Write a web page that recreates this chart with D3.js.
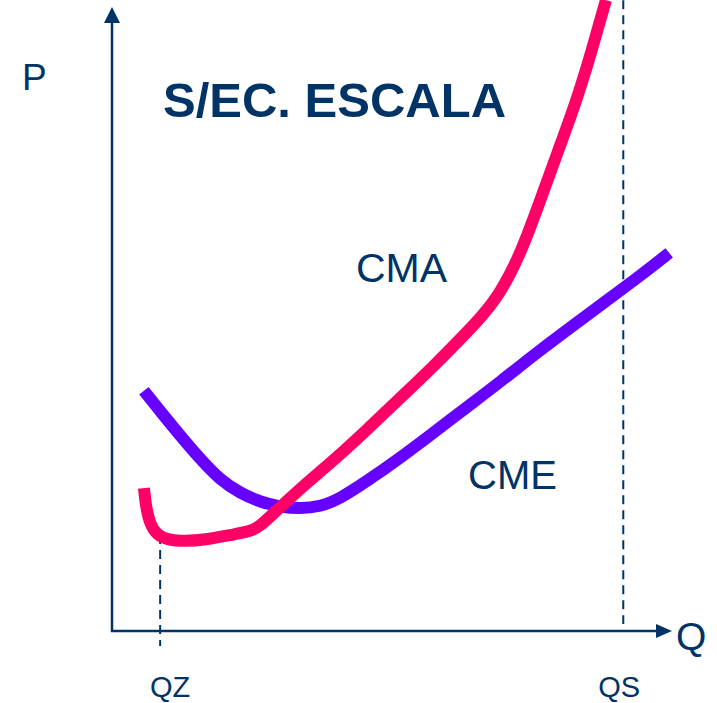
<!DOCTYPE html>
<html>
<head>
<meta charset="utf-8">
<script src="https://cdn.jsdelivr.net/npm/d3@7/dist/d3.min.js"></script>
<style>
  html, body { margin: 0; padding: 0; background: #ffffff; }
  svg { display: block; }
  text { font-family: "Liberation Sans", Arial, sans-serif; fill: #003366; }
</style>
</head>
<body>
<svg id="chart" width="717" height="703"></svg>
<script>
// Average cost curves without economies of scale (Q on x, P on y, 0-100 units)
const cmaQ = [5.7, 6.1, 6.8, 8.0, 10.0, 13.0, 16.6, 21.1, 24.6, 26.4, 28.2, 31.8, 35.4, 38.9, 45.5, 51.4, 57.3, 63.4, 66.1, 68.8, 71.1, 73.2, 76.4, 79.6, 83.0, 85.7, 88.2];
const cmaP = [22.9, 19.7, 17.1, 15.4, 14.6, 14.4, 14.6, 15.4, 15.9, 16.8, 18.3, 21.3, 24.2, 26.8, 32.2, 37.3, 42.3, 47.9, 50.5, 53.5, 57.2, 61.1, 68.8, 76.8, 85.1, 93.1, 101.1];

const cmeQ = [5.7, 8.9, 12.1, 15.7, 19.3, 22.9, 26.4, 30.0, 33.6, 37.1, 40.7, 45.5, 51.4, 57.3, 63.4, 69.3, 76.4, 85.4, 94.3, 99.5];
const cmeP = [38.5, 34.9, 31.4, 27.6, 24.2, 22.1, 20.7, 19.9, 19.6, 19.9, 21.2, 24.0, 27.7, 31.7, 35.9, 39.9, 45.0, 51.0, 56.9, 60.6];

// Reference quantities marked on the Q axis
const markLabels = ["QZ", "QS"];
const markQ = [8.6, 91.3];
const markTopP = [15.4, 101.1];

const curveNames = ["CMA", "CME"];
const titleText = "S/EC. ESCALA";
const axisLabels = ["P", "Q"];

const NAVY = "#003366";
const PINK = "#ff0066";
const VIOLET = "#6600ff";

const svg = d3.select("#chart");

const x = d3.scaleLinear().domain([0, 100]).range([112, 672]);
const y = d3.scaleLinear().domain([0, 100]).range([631, 7]);

// Dashed reference lines
const marks = markLabels.map((label, i) => ({ label, q: markQ[i], top: markTopP[i] }));
svg.selectAll("line.mark")
  .data(marks)
  .join("line")
  .attr("class", "mark")
  .attr("x1", d => x(d.q)).attr("x2", d => x(d.q))
  .attr("y1", d => y(d.top))
  .attr("y2", (d, i) => i === 0 ? y(0) + 15 : y(0) - 7)
  .attr("stroke", NAVY)
  .attr("stroke-width", 2)
  .attr("stroke-dasharray", "9,6");

// Axes with arrowheads
svg.append("line")
  .attr("x1", x(0)).attr("x2", x(0))
  .attr("y1", y(0) + 1).attr("y2", y(100) + 12)
  .attr("stroke", NAVY).attr("stroke-width", 2.5);
svg.append("line")
  .attr("x1", x(0) - 1).attr("x2", x(100) - 12)
  .attr("y1", y(0)).attr("y2", y(0))
  .attr("stroke", NAVY).attr("stroke-width", 2.5);
svg.append("path")
  .attr("d", `M${x(0)},${y(100)} L${x(0) - 8},${y(100) + 16} L${x(0) + 8},${y(100) + 16} Z`)
  .attr("fill", NAVY);
svg.append("path")
  .attr("d", `M${x(100)},${y(0)} L${x(100) - 16},${y(0) - 7} L${x(100) - 16},${y(0) + 7} Z`)
  .attr("fill", NAVY);

// Cost curves, smoothed with a B-spline through the sampled points
const line = d3.line()
  .x(d => x(d[0]))
  .y(d => y(d[1]))
  .curve(d3.curveBasis);

const cme = cmeQ.map((q, i) => [q, cmeP[i]]);
const cma = cmaQ.map((q, i) => [q, cmaP[i]]);

svg.append("path")
  .datum(cme)
  .attr("d", line)
  .attr("fill", "none")
  .attr("stroke", VIOLET)
  .attr("stroke-width", 12);

svg.append("path")
  .datum(cma)
  .attr("d", line)
  .attr("fill", "none")
  .attr("stroke", PINK)
  .attr("stroke-width", 12);

// Text
svg.append("text")
  .attr("x", 22).attr("y", 90)
  .attr("font-size", 37)
  .text(axisLabels[0]);

svg.append("text")
  .attr("x", 676).attr("y", 650)
  .attr("font-size", 39)
  .text(axisLabels[1]);

svg.append("text")
  .attr("x", 163).attr("y", 117)
  .attr("font-size", 49)
  .attr("font-weight", "bold")
  .text(titleText);

svg.append("text")
  .attr("x", 356).attr("y", 282)
  .attr("font-size", 41)
  .text(curveNames[0]);

svg.append("text")
  .attr("x", 468).attr("y", 489)
  .attr("font-size", 40)
  .text(curveNames[1]);

svg.selectAll("text.mark")
  .data(marks)
  .join("text")
  .attr("class", "mark")
  .attr("x", (d, i) => x(d.q) + (i === 0 ? 10 : -4))
  .attr("y", (d, i) => i === 0 ? 697 : 697)
  .attr("text-anchor", "middle")
  .attr("font-size", 29)
  .text(d => d.label);
</script>
</body>
</html>
